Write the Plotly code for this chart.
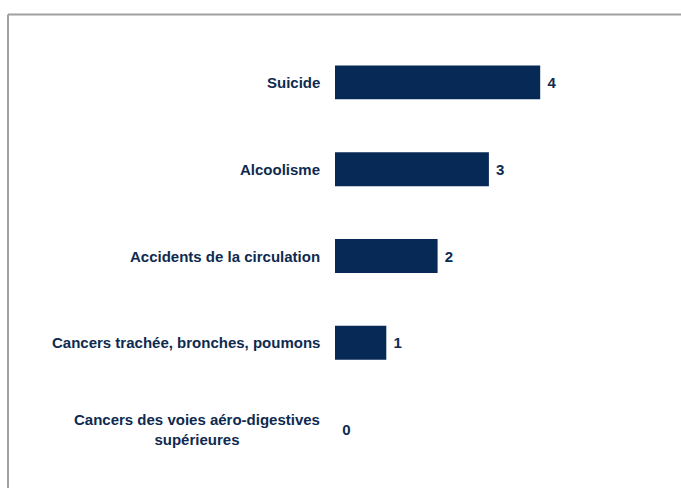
import plotly.graph_objects as go

categories = ["Suicide", "Alcoolisme", "Accidents de la circulation",
              "Cancers trachée, bronches, poumons",
              "Cancers des voies aéro-digestives<br>supérieures"]
values = [4, 3, 2, 1, 0]
value_labels = ["4", "3", "2", "1", "0"]

BAR = "#062A55"
TXT = "#0E2A50"
FONT = "Liberation Sans Narrow, Arial Narrow, Liberation Sans, Arial, sans-serif"

fig = go.Figure()
fig.add_trace(go.Bar(
    y=categories, x=values, orientation="h",
    marker=dict(color=BAR, line=dict(width=0)),
    text=["\u00a0" + v for v in value_labels], textposition="outside", cliponaxis=False,
    textfont=dict(family=FONT, size=15, color=TXT, weight="bold"),
))

for c in categories:
    fig.add_annotation(
        x=0, xref="paper", y=c, yref="y", xanchor="right", yanchor="middle",
        xshift=-13, text=c, showarrow=False, align="center",
        font=dict(family=FONT, size=15, color=TXT, weight="bold"),
    )

# frame lines (top and left)
fig.add_shape(type="line", xref="paper", yref="paper",
              x0=-327 / 336, x1=1.1, y0=1 + 24.5 / 435, y1=1 + 24.5 / 435,
              line=dict(color="#A0A0A0", width=2))
fig.add_shape(type="line", xref="paper", yref="paper",
              x0=-327 / 336, x1=-327 / 336, y0=1 + 24.5 / 435, y1=-0.1,
              line=dict(color="#A0A0A0", width=2))

fig.update_layout(
    width=681, height=488,
    margin=dict(l=335, r=10, t=38.5, b=14.5),
    paper_bgcolor="white", plot_bgcolor="white",
    bargap=0.61, showlegend=False,
    xaxis=dict(range=[0, 336 / 51.3], visible=False, fixedrange=True),
    yaxis=dict(autorange="reversed", showticklabels=False, showgrid=False,
               zeroline=False, showline=False, ticks=""),
)

fig.write_html("out.html", config={"displayModeBar": False},
               post_script="document.body.style.margin='0';")
